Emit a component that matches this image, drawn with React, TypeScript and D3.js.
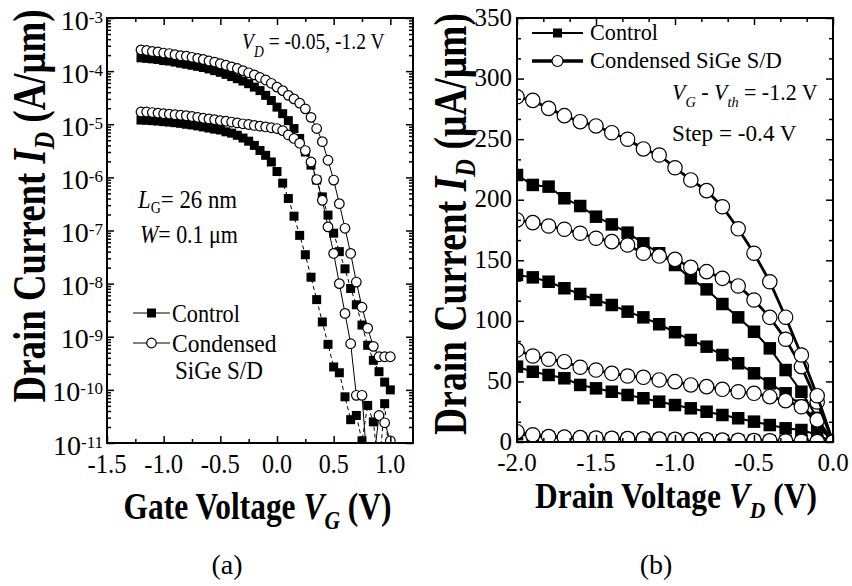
import { useEffect, useRef } from "react";
import * as d3 from "d3";

// (a) transfer curves: I_D (A/um) vs gate voltage
const gateVoltage = [
  -1.2, -1.15, -1.1, -1.05, -1.0, -0.95, -0.9, -0.85, -0.8, -0.75, -0.7, -0.65, -0.6, -0.55, -0.5,
  -0.45, -0.4, -0.35, -0.3, -0.25, -0.2, -0.15, -0.1, -0.05, 0, 0.05, 0.1, 0.15, 0.2, 0.25, 0.3,
  0.35, 0.4, 0.45, 0.5, 0.55, 0.6, 0.65, 0.7, 0.75, 0.8, 0.85, 0.9, 0.95, 1.0,
];
// V_D = -1.2 V
const sigeSat = [
  2.51e-4, 2.45e-4, 2.34e-4, 2.29e-4, 2.19e-4, 2.14e-4, 2.04e-4, 1.95e-4, 1.91e-4, 1.82e-4, 1.74e-4,
  1.66e-4, 1.55e-4, 1.48e-4, 1.38e-4, 1.29e-4, 1.2e-4, 1.12e-4, 1.02e-4, 9.3e-5, 8.5e-5, 7.6e-5,
  6.8e-5, 5.9e-5, 5.0e-5, 4.3e-5, 3.5e-5, 3.0e-5, 2.5e-5, 1.95e-5, 1.35e-5, 8.3e-6, 4.7e-6, 2.1e-6,
  8.9e-7, 3.2e-7, 1.1e-7, 3.7e-8, 1.07e-8, 3.6e-9, 1.45e-9, 6.6e-10, 4.2e-10, 4.2e-10, 4.2e-10,
];
const controlSat = [
  1.78e-4, 1.74e-4, 1.7e-4, 1.66e-4, 1.58e-4, 1.55e-4, 1.48e-4, 1.41e-4, 1.35e-4, 1.29e-4, 1.23e-4,
  1.17e-4, 1.1e-4, 1.02e-4, 9.5e-5, 8.7e-5, 7.9e-5, 7.2e-5, 6.5e-5, 5.8e-5, 5.0e-5, 4.3e-5, 3.5e-5,
  2.8e-5, 2.1e-5, 1.58e-5, 1.17e-5, 8.3e-6, 5.4e-6, 3.0e-6, 1.7e-6, 8.9e-7, 4.3e-7, 1.95e-7, 8.9e-8,
  4.0e-8, 1.9e-8, 8.1e-9, 4.0e-9, 1.66e-9, 6.9e-10, 3.6e-10, 2.2e-10, 1.4e-10, 1.0e-10,
];
// V_D = -0.05 V
const sigeLin = [
  1.7e-5, 1.7e-5, 1.66e-5, 1.62e-5, 1.58e-5, 1.55e-5, 1.51e-5, 1.48e-5, 1.45e-5, 1.4e-5, 1.35e-5,
  1.3e-5, 1.26e-5, 1.22e-5, 1.17e-5, 1.14e-5, 1.1e-5, 1.06e-5, 1.02e-5, 9.9e-6, 9.5e-6, 9.2e-6,
  8.9e-6, 8.6e-6, 8.3e-6, 7.6e-6, 6.3e-6, 5.4e-6, 4.4e-6, 3.2e-6, 1.95e-6, 9.1e-7, 3.7e-7, 1.17e-7,
  3.7e-8, 1.0e-8, 2.75e-9, 7.4e-10, 7.9e-11, 7.9e-11, 3e-12, 4e-12, 3.3e-11, 2.4e-11, 1.1e-11,
];
const controlLin = [
  1.2e-5, 1.19e-5, 1.17e-5, 1.15e-5, 1.12e-5, 1.1e-5, 1.07e-5, 1.04e-5, 1.0e-5, 9.7e-6, 9.3e-6,
  8.9e-6, 8.5e-6, 8.1e-6, 7.8e-6, 7.2e-6, 6.8e-6, 6.2e-6, 5.5e-6, 4.8e-6, 4.0e-6, 3.2e-6, 2.6e-6,
  1.95e-6, 1.29e-6, 7.8e-7, 4.0e-7, 1.86e-7, 8.1e-8, 3.5e-8, 1.32e-8, 5.0e-9, 1.9e-9, 7.2e-10,
  2.7e-10, 2.1e-10, 7.4e-11, 2.75e-11, 3.3e-11, 1.1e-11, 5.1e-11, 2.5e-11, 3e-12, 5.5e-11, 3e-12,
];

// (b) output curves: I_D (uA/um) vs drain voltage, V_G - V_th = -1.2, -0.8, -0.4, 0 V
const drainVoltage = [
  -2.0, -1.9, -1.8, -1.7, -1.6, -1.5, -1.4, -1.3, -1.2, -1.1, -1.0, -0.9, -0.8, -0.7, -0.6, -0.5,
  -0.4, -0.3, -0.2, -0.1, 0,
];
const sige12 = [285, 282, 275.4, 269.4, 264.4, 260.9, 255.3, 249.9, 241.9, 236.9, 226.4, 216.3, 207.5, 194.2, 176, 155.8, 132.3, 103, 71.8, 38.2, 0];
const sige08 = [183.3, 181.1, 178.3, 175.6, 172.3, 168.2, 165.4, 162.6, 155.8, 153.5, 150.8, 144.2, 140.6, 135.1, 128.8, 117.2, 102.9, 84.8, 62.2, 33, 0];
const sige04 = [75.9, 71, 68.3, 66.3, 61.7, 59.4, 56.7, 54.5, 53.4, 51.2, 49.8, 47.1, 45.7, 43.5, 41.5, 40.2, 37.4, 34.1, 29.1, 18.2, 0];
const sige00 = [8.5, 6, 4.5, 4, 3.6, 3.3, 3, 2.8, 2.6, 2.4, 2.2, 2, 1.8, 1.6, 1.4, 1.2, 1, 0.8, 0.6, 0.3, 0];
const control12 = [220.4, 212.2, 210.8, 201.2, 194.8, 186, 179.6, 172.8, 164, 155.8, 146.1, 135.1, 126, 113.9, 102.9, 91, 77.3, 59.4, 41.5, 20, 0];
const control08 = [137.9, 135.9, 132.3, 126.9, 122.2, 117.2, 113.1, 107.6, 102.9, 97.2, 90.6, 84.2, 78.7, 71.8, 65, 56.7, 48.4, 40.2, 30, 14, 0];
const control04 = [62.2, 58, 55.3, 52.6, 47.1, 44.3, 41.5, 38.8, 36.1, 33.3, 30.5, 27.8, 25, 22.3, 19.6, 16.8, 14, 11.3, 9.9, 6, 0];
const control00 = [6.5, 4.8, 3.8, 3.3, 3, 2.8, 2.6, 2.4, 2.2, 2, 1.8, 1.6, 1.5, 1.3, 1.1, 1, 0.8, 0.6, 0.4, 0.2, 0];

const decadeExponents = [-3, -4, -5, -6, -7, -8, -9, -10, -11];
const gateTicks = [-1.5, -1.0, -0.5, 0.0, 0.5, 1.0];
const gateMinor = [-1.25, -0.75, -0.25, 0.25, 0.75];
const currentTicks = [0, 50, 100, 150, 200, 250, 300, 350];
const drainTicks = [-2.0, -1.5, -1.0, -0.5, 0.0];

const FONT = "'Liberation Serif', 'Times New Roman', Times, serif";

type Part = { t: string; i?: boolean; dy?: number; fs?: number };

// text with sub/superscripts; `fit` squeezes it horizontally to a given width
const rich = (parent: any, x: number, y: number, parts: Part[], o: any) => {
  const g = parent.append("g");
  const text = g
    .append("text")
    .attr("font-family", FONT)
    .attr("font-size", o.size)
    .attr("font-weight", o.bold ? "bold" : "normal")
    .attr("text-anchor", o.anchor || "start")
    .attr("fill", "#000")
    .style("white-space", "pre");
  let shift = 0;
  parts.forEach((p) => {
    const target = p.dy || 0;
    text
      .append("tspan")
      .attr("dy", target - shift)
      .attr("font-size", p.fs || o.size)
      .attr("font-style", p.i ? "italic" : "normal")
      .text(p.t);
    shift = target;
  });
  const sx = o.fit ? o.fit / text.node().getBBox().width : 1;
  g.attr("transform", `translate(${x},${y}) rotate(${o.rotate || 0}) scale(${sx},1)`);
};

const frameTicks = (svg: any, x: any, y: any, xMajor: number[], xMinor: number[], yMajor: number[], yMinor: number[]) => {
  const [x0, x1] = x.range();
  const [yb, yt] = y.range();
  const put = (axis: any, tx: number, ty: number) =>
    svg
      .append("g")
      .attr("transform", `translate(${tx},${ty})`)
      .call(axis)
      .call((s: any) => {
        s.select(".domain").remove();
        s.selectAll("text").remove();
        s.selectAll("line").attr("stroke", "#000").attr("stroke-width", 1.5);
      });
  [
    [xMajor, 7],
    [xMinor, 4],
  ].forEach(([vals, len]: any) => {
    put(d3.axisBottom(x).tickValues(vals).tickSize(-len), 0, yb);
    put(d3.axisTop(x).tickValues(vals).tickSize(-len), 0, yt);
  });
  [
    [yMajor, 7],
    [yMinor, 4],
  ].forEach(([vals, len]: any) => {
    put(d3.axisLeft(y).tickValues(vals).tickSize(-len), x0, 0);
    put(d3.axisRight(y).tickValues(vals).tickSize(-len), x1, 0);
  });
  svg
    .append("rect")
    .attr("x", x0)
    .attr("y", yt)
    .attr("width", x1 - x0)
    .attr("height", yb - yt)
    .attr("fill", "none")
    .attr("stroke", "#000")
    .attr("stroke-width", 2);
};

const series = (g: any, xs: number[], ys: number[], x: any, y: any, o: any) => {
  const pts = xs.map((v, i) => [v, ys[i]]);
  g.append("path")
    .datum(pts)
    .attr("d", d3.line().x((d: any) => x(d[0])).y((d: any) => y(d[1])))
    .attr("fill", "none")
    .attr("stroke", "#000")
    .attr("stroke-width", o.lineWidth)
    .attr("stroke-dasharray", o.dash || null);
  if (o.shape === "square") {
    g.append("g")
      .selectAll("rect")
      .data(pts)
      .join("rect")
      .attr("x", (d: any) => x(d[0]) - o.size / 2)
      .attr("y", (d: any) => y(d[1]) - o.size / 2)
      .attr("width", o.size)
      .attr("height", o.size)
      .attr("fill", "#000");
  } else {
    g.append("g")
      .selectAll("circle")
      .data(pts)
      .join("circle")
      .attr("cx", (d: any) => x(d[0]))
      .attr("cy", (d: any) => y(d[1]))
      .attr("r", o.size)
      .attr("fill", "#fff")
      .attr("stroke", "#000")
      .attr("stroke-width", 1.2);
  }
};

const drawTransfer = (svg: any) => {
  const x = d3.scaleLinear().domain([-1.5, 1.2]).range([107, 413]);
  const y = d3.scaleLog().domain([1e-11, 1e-3]).range([443, 18]);
  svg.append("clipPath").attr("id", "clip-a").append("rect").attr("x", 107).attr("y", 18).attr("width", 306).attr("height", 425);
  const plot = svg.append("g").attr("clip-path", "url(#clip-a)");

  const ctrl = { shape: "square", size: 9, lineWidth: 1, dash: "4 3" };
  const sige = { shape: "circle", size: 4.8, lineWidth: 1 };
  series(plot, gateVoltage, controlSat, x, y, ctrl);
  series(plot, gateVoltage, controlLin, x, y, ctrl);
  series(plot, gateVoltage, sigeSat, x, y, sige);
  series(plot, gateVoltage, sigeLin, x, y, sige);

  const yMinor: number[] = [];
  decadeExponents.slice(0, -1).forEach((k) => d3.range(2, 10).forEach((m) => yMinor.push(m * Math.pow(10, k - 1))));
  frameTicks(svg, x, y, gateTicks, gateMinor, decadeExponents.map((k) => Math.pow(10, k)), yMinor);

  decadeExponents.forEach((k) =>
    rich(svg, 103, y(Math.pow(10, k)) + 11.5, [{ t: "10" }, { t: String(k), dy: -7, fs: 17 }], { size: 28, anchor: "end" }),
  );
  gateTicks.forEach((v) => rich(svg, x(v), 473, [{ t: v.toFixed(1) }], { size: 27, anchor: "middle", fit: v < 0 ? 39 : 30 }));

  rich(svg, 45, 206, [{ t: "Drain Current " }, { t: "I", i: true }, { t: "D", i: true, dy: 9, fs: 30 }, { t: " (A/μm)" }], {
    size: 46, bold: true, anchor: "middle", rotate: -90, fit: 393,
  });
  rich(svg, 257.5, 519, [{ t: "Gate Voltage " }, { t: "V", i: true }, { t: "G", i: true, dy: 10, fs: 26 }, { t: " (V)" }], {
    size: 38, bold: true, anchor: "middle", fit: 268,
  });

  rich(svg, 242, 49, [{ t: "V", i: true }, { t: "D", i: true, dy: 8, fs: 16 }, { t: " = -0.05, -1.2 V" }], { size: 23, fit: 143 });
  rich(svg, 138, 208, [{ t: "L", i: true }, { t: "G", dy: 5, fs: 16 }, { t: "= 26 nm" }], { size: 26, fit: 100 });
  rich(svg, 140, 243, [{ t: "W", i: true }, { t: "= 0.1 μm" }], { size: 26, fit: 98 });

  // legend
  const legend = svg.append("g");
  legend.append("line").attr("x1", 133).attr("x2", 170).attr("y1", 313).attr("y2", 313).attr("stroke", "#000");
  legend.append("rect").attr("x", 147).attr("y", 308.5).attr("width", 9).attr("height", 9).attr("fill", "#000");
  legend.append("line").attr("x1", 133).attr("x2", 170).attr("y1", 343).attr("y2", 343).attr("stroke", "#000");
  legend.append("circle").attr("cx", 151.5).attr("cy", 343).attr("r", 4.8).attr("fill", "#fff").attr("stroke", "#000").attr("stroke-width", 1.2);
  rich(svg, 172, 322, [{ t: "Control" }], { size: 25, fit: 68 });
  rich(svg, 172, 352, [{ t: "Condensed" }], { size: 25, fit: 105 });
  rich(svg, 175, 379, [{ t: "SiGe S/D" }], { size: 25, fit: 88 });

  rich(svg, 227, 574, [{ t: "(a)" }], { size: 28, anchor: "middle" });
};

const drawOutput = (svg: any) => {
  const x = d3.scaleLinear().domain([-2, 0]).range([517, 833]);
  const y = d3.scaleLinear().domain([0, 350]).range([442, 18]);
  svg.append("clipPath").attr("id", "clip-b").append("rect").attr("x", 517).attr("y", 18).attr("width", 316).attr("height", 424);
  const plot = svg.append("g").attr("clip-path", "url(#clip-b)");

  const ctrl = { shape: "square", size: 12.5, lineWidth: 2 };
  const sige = { shape: "circle", size: 7.2, lineWidth: 2.8 };
  [control00, control04, control08, control12].forEach((s) => series(plot, drainVoltage, s, x, y, ctrl));
  [sige00, sige04, sige08, sige12].forEach((s) => series(plot, drainVoltage, s, x, y, sige));

  const xMinor = d3.range(-2, 0.001, 0.5 / 3).filter((v) => Math.abs(v * 2 - Math.round(v * 2)) > 0.01);
  const yMinor = d3.range(0, 351, 50 / 3).filter((v) => Math.abs(v / 50 - Math.round(v / 50)) > 0.01);
  frameTicks(svg, x, y, drainTicks, xMinor, currentTicks, yMinor);

  currentTicks.forEach((v) => rich(svg, 512, y(v) + 7.5, [{ t: String(v) }], { size: 25, anchor: "end" }));
  drainTicks.forEach((v) => rich(svg, x(v), 471, [{ t: v.toFixed(1) }], { size: 25, anchor: "middle" }));

  rich(svg, 466, 224, [{ t: "Drain Current " }, { t: "I", i: true }, { t: "D", i: true, dy: 9, fs: 30 }, { t: " (μA/μm)" }], {
    size: 46, bold: true, anchor: "middle", rotate: -90, fit: 422,
  });
  rich(svg, 676, 508, [{ t: "Drain Voltage " }, { t: "V", i: true }, { t: "D", i: true, dy: 10, fs: 24 }, { t: " (V)" }], {
    size: 35, bold: true, anchor: "middle", fit: 282,
  });

  const legend = svg.append("g");
  legend.append("line").attr("x1", 532).attr("x2", 583).attr("y1", 33).attr("y2", 33).attr("stroke", "#000").attr("stroke-width", 2);
  legend.append("rect").attr("x", 553).attr("y", 28.5).attr("width", 9).attr("height", 9).attr("fill", "#000");
  legend.append("line").attr("x1", 532).attr("x2", 583).attr("y1", 61).attr("y2", 61).attr("stroke", "#000").attr("stroke-width", 3.5);
  legend.append("circle").attr("cx", 557.5).attr("cy", 61).attr("r", 5.5).attr("fill", "#fff").attr("stroke", "#000").attr("stroke-width", 1.2);
  rich(svg, 590, 40, [{ t: "Control" }], { size: 23, fit: 68 });
  rich(svg, 590, 68, [{ t: "Condensed SiGe S/D" }], { size: 23, fit: 192 });

  rich(
    svg, 672, 100,
    [{ t: "V", i: true }, { t: "G", i: true, dy: 7, fs: 15 }, { t: " - " }, { t: "V", i: true }, { t: "th", i: true, dy: 7, fs: 15 }, { t: " = -1.2 V" }],
    { size: 23, fit: 146 },
  );
  rich(svg, 672, 141, [{ t: "Step = -0.4 V" }], { size: 23, fit: 125 });

  rich(svg, 656, 574, [{ t: "(b)" }], { size: 28, anchor: "middle" });
};

export default function App() {
  const ref = useRef<SVGSVGElement | null>(null);

  useEffect(() => {
    if (!ref.current) return;
    const svg = d3.select(ref.current);
    svg.selectAll("*").remove();
    svg.append("rect").attr("width", 852).attr("height", 586).attr("fill", "#fff");
    drawTransfer(svg);
    drawOutput(svg);
  }, []);

  return (
    <svg
      ref={ref}
      width={852}
      height={586}
      style={{ position: "absolute", left: 0, top: 0, display: "block" }}
    />
  );
}
